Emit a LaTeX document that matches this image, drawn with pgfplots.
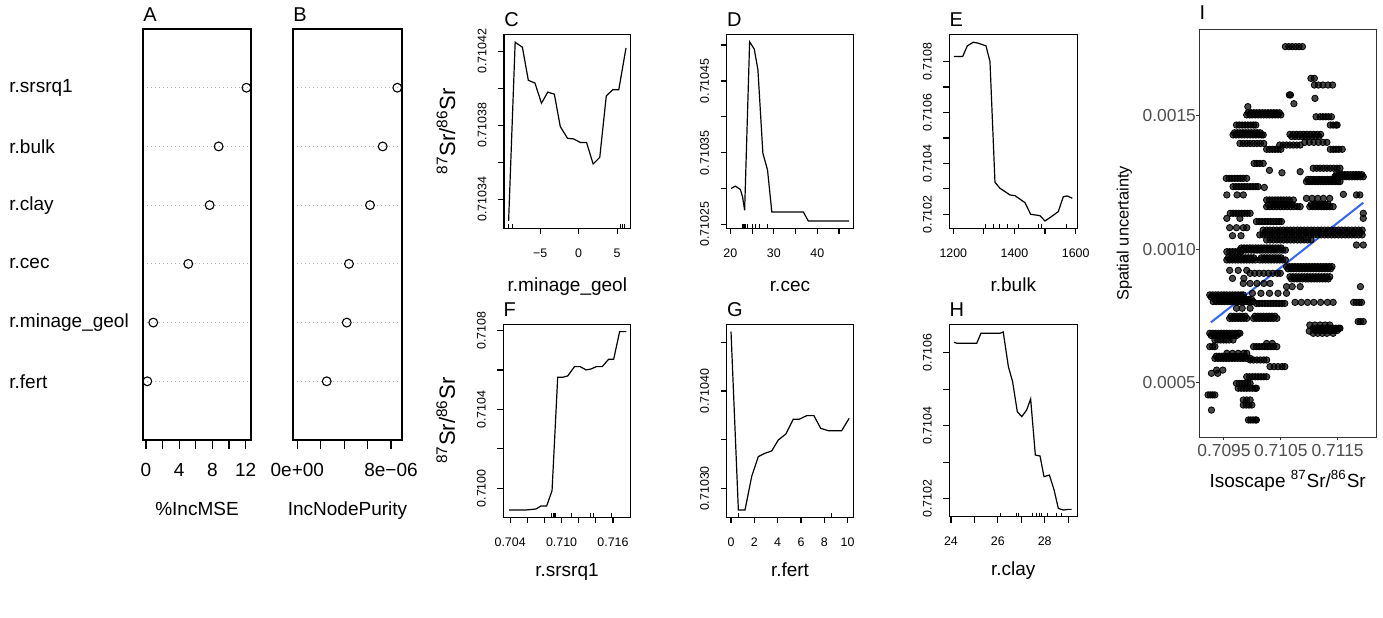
\documentclass[border=0pt]{standalone}
\usepackage{fontspec}
\setmainfont{Liberation Sans}
\usepackage{pgfplots}
\pgfplotsset{compat=1.18}
\definecolor{ggtext}{HTML}{4D4D4D}
\definecolor{ggframe}{HTML}{333333}
\definecolor{fitblue}{HTML}{3366FF}
\newcommand{\srratio}{\textsuperscript{87}Sr/\textsuperscript{86}Sr}

\pgfplotsset{
  rframe/.style={scale only axis, axis line style={line width=0.6pt},
    tick style={black, line width=0.6pt}, tick align=outside,
    xtick pos=left, ytick pos=left,
    title style={at={(axis description cs:0,1)}, anchor=south west, inner sep=0pt,
      yshift=-2.2pt, font=\fontsize{10}{12}\selectfont}},
  pdp/.style={rframe, major tick length=3pt,
    ticklabel style={font=\fontsize{6.2}{7}\selectfont},
    xticklabel style={anchor=base, yshift=-11.6pt},
    yticklabel style={rotate=90, anchor=south, inner ysep=5.6pt},
    xlabel style={at={(axis description cs:0.5,0)}, anchor=base,
      font=\fontsize{9.5}{11}\selectfont},
    ylabel style={anchor=center, font=\fontsize{11}{13}\selectfont}},
  pdline/.style={black, line width=0.6pt},
  rug/.style={only marks, mark=|, mark size=1pt,
    mark options={line width=0.4pt, yshift=1pt}},
  dots/.style={rframe, major tick length=4.5pt,
    ymin=0, ymax=7, ytick={1,...,6},
    ymajorgrids, grid style={gray!60, line width=0.5pt, dash pattern=on 0.6pt off 1.4pt},
    ytick style={draw=none},
    ticklabel style={font=\fontsize{9.5}{11}\selectfont},
    xticklabel style={anchor=base, yshift=-13.8pt},
    xlabel style={at={(axis description cs:0.5,0)}, anchor=base, yshift=-37.5pt,
      font=\fontsize{9.5}{11}\selectfont}},
  dotmark/.style={only marks, mark=o, mark size=2.2pt, mark options={black, line width=0.55pt}},
  ggpts/.style={only marks, mark=*, mark size=1.6pt,
    mark options={fill=black, draw=none, fill opacity=0.72}},
}

\begin{document}
\begin{tikzpicture}
\path[use as bounding box] (0,0) rectangle (691.5pt,308.5pt);

% A: %IncMSE
\begin{axis}[dots, at={(71.5pt,88.5pt)}, width=54pt, height=205.5pt,
  xmin=-0.36, xmax=12.65,
  xtick={0,2,...,12}, xticklabels={0,,4,,8,,12},
  yticklabels={r.fert,r.minage\_geol,r.cec,r.clay,r.bulk,r.srsrq1},
  yticklabel style={anchor=west, inner sep=0pt, xshift=-62.5pt},
  xlabel={\%IncMSE}, title={A}]
\addplot[dotmark] coordinates {(12.1,6)(8.75,5)(7.67,4)(5.1,3)(0.88,2)(0.16,1)};
\end{axis}

% B: IncNodePurity (units of 1e-6)
\begin{axis}[dots, at={(146.5pt,88.5pt)}, width=54.5pt, height=205.5pt,
  xmin=-0.37, xmax=8.94,
  xtick={0,2,...,8}, xticklabels={0e+00,,,,8e−06},
  yticklabels={},
  xlabel={IncNodePurity}, title={B}]
\addplot[dotmark] coordinates {(8.54,6)(7.29,5)(6.21,4)(4.41,3)(4.22,2)(2.51,1)};
\end{axis}

% C: r.minage_geol (y in 1e-5 above 0.71)
\begin{axis}[pdp, at={(252pt,194.35pt)}, width=63.35pt, height=97pt,
  xmin=-9.7, xmax=6.76, ymin=32.42, ymax=42.92,
  xtick={-5,0,5}, xticklabels={−5,0,5},
  ytick={34,36,...,42}, yticklabels={0.71034,,0.71038,,0.71042},
  xlabel={r.minage\_geol}, xlabel style={yshift=-31.5pt},
  ylabel={\srratio}, ylabel style={at={(axis description cs:-0.458,0.5)}},
  title={C}]
\addplot[pdline] coordinates {(-9.10,32.82)(-8.25,42.49)(-7.31,42.22)(-6.54,40.43)
  (-5.68,40.28)(-4.83,39.19)(-4.02,39.79)(-3.16,39.68)(-2.39,37.93)(-1.45,37.29)
  (-0.68,37.26)(0.26,37.06)(1.03,37.06)(1.88,35.90)(2.74,36.26)(3.59,39.59)
  (4.44,39.92)(5.21,39.92)(6.15,42.18)};
\addplot[rug] coordinates {(-9.10,32.42)(-8.59,32.42)(5.38,32.42)(5.64,32.42)(5.94,32.42)};
\end{axis}

% D: r.cec
\begin{axis}[pdp, at={(363.35pt,194.35pt)}, width=63.3pt, height=97pt,
  xmin=19.15, xmax=48.3, ymin=24.45, ymax=51.5,
  xtick={20,25,...,45}, xticklabels={20,,30,,40,},
  ytick={25,30,...,50}, yticklabels={0.71025,,0.71035,,0.71045,},
  xlabel={r.cec}, xlabel style={yshift=-31.5pt}, title={D}]
\addplot[pdline] coordinates {(20.15,30.00)(21.15,30.33)(22.29,29.87)(22.80,28.84)
  (23.28,26.97)(24.43,50.46)(25.50,49.43)(26.34,46.54)(27.48,34.92)(28.55,32.58)
  (29.54,26.73)(36.79,26.73)(37.94,25.47)(47.33,25.47)};
\addplot[rug] coordinates {(22.67,24.45)(22.90,24.45)(23.13,24.45)(23.44,24.45)
  (23.82,24.45)(24.96,24.45)(25.73,24.45)(26.72,24.45)(28.55,24.45)};
\end{axis}

% E: r.bulk
\begin{axis}[pdp, at={(474.65pt,194.35pt)}, width=64pt, height=97pt,
  xmin=1186.9, xmax=1605.4, ymin=14.5, ymax=90.7,
  xtick={1200,1300,...,1600}, xticklabels={1200,,1400,,1600},
  ytick={20,30,...,80}, yticklabels={0.7102,,0.7104,,0.7106,,0.7108},
  xlabel={r.bulk}, xlabel style={yshift=-31.5pt}, title={E}]
\addplot[pdline] coordinates {(1202,81.97)(1230.5,81.97)(1245.8,86.16)(1265.4,87.60)
  (1281.7,87.20)(1306.8,86.16)(1319.9,80.00)(1336.2,32.57)(1352.6,30.22)
  (1385.3,27.60)(1401.6,27.33)(1434.3,24.58)(1452.9,20.00)(1483.4,19.47)
  (1499.7,17.38)(1516,18.69)(1543.3,21.05)(1559.7,26.94)(1572.8,27.20)(1589.1,26.29)};
\addplot[rug] coordinates {(1304,14.5)(1331,14.5)(1350,14.5)(1376,14.5)(1414,14.5)
  (1478,14.5)(1489,14.5)(1571,14.5)};
\end{axis}

% F: r.srsrq1 (x in 1e-3 above 0.7)
\begin{axis}[pdp, at={(251.65pt,49.85pt)}, width=63.7pt, height=96.5pt,
  xmin=3.2, xmax=18.07, ymin=-14.7, ymax=83.2,
  xtick={4,6,...,16}, xticklabels={0.704,,,0.710,,,0.716},
  ytick={0,20,...,80}, yticklabels={0.7100,,0.7104,,0.7108},
  xlabel={r.srsrq1}, xlabel style={yshift=-29.5pt},
  ylabel={\srratio}, ylabel style={at={(axis description cs:-0.452,0.5)}},
  title={F}]
\addplot[pdline] coordinates {(3.88,-11.00)(5.84,-11.00)(7.01,-10.49)(7.60,-8.96)
  (8.26,-8.96)(8.89,-1.18)(9.55,56.32)(10.14,56.32)(10.72,57.00)(11.51,61.73)
  (12.17,61.73)(12.87,60.04)(13.46,60.55)(14.05,61.73)(14.75,61.73)(15.49,65.45)
  (16.08,65.45)(16.78,79.49)(17.57,79.49)};
\addplot[rug] coordinates {(8.8,-14.7)(9.0,-14.7)(9.2,-14.7)(9.3,-14.7)(11.1,-14.7)
  (13.4,-14.7)(13.7,-14.7)(15.8,-14.7)};
\end{axis}

% G: r.fert
\begin{axis}[pdp, at={(363.35pt,49.85pt)}, width=63.3pt, height=96.5pt,
  xmin=-0.37, xmax=10.49, ymin=27.05, ymax=46.83,
  xtick={0,2,...,10}, xticklabels={0,2,4,6,8,10},
  ytick={30,35,40,45}, yticklabels={0.71030,,0.71040,},
  xlabel={r.fert}, xlabel style={yshift=-29.5pt}, title={G}]
\addplot[pdline] coordinates {(0,46.08)(0.63,27.80)(1.20,27.80)(1.77,31.22)(2.34,33.27)
  (2.91,33.61)(3.49,33.85)(4.06,34.98)(4.71,35.59)(5.34,37.10)(5.86,37.10)
  (6.49,37.47)(7.11,37.47)(7.69,36.17)(8.34,35.93)(9.49,35.93)(10.14,37.20)};
\addplot[rug] coordinates {(0.6,27.05)(8.6,27.05)};
\end{axis}

% H: r.clay
\begin{axis}[pdp, at={(474.65pt,50.15pt)}, width=64pt, height=96.2pt,
  xmin=23.93, xmax=29.39, ymin=15.07, ymax=67.76,
  xtick={24,...,29}, xticklabels={24,,26,,28,},
  ytick={20,30,...,60}, yticklabels={0.7102,,0.7104,,0.7106},
  xlabel={r.clay}, xlabel style={yshift=-29.5pt}, title={H}]
\addplot[pdline] coordinates {(24.13,62.83)(24.27,62.56)(25.10,62.56)(25.28,65.30)
  (26.09,65.30)(26.23,65.66)(26.45,56.16)(26.63,52.05)(26.83,43.84)(27.02,42.47)
  (27.23,44.29)(27.40,47.31)(27.60,31.96)(27.80,31.69)(27.97,26.03)(28.20,26.48)
  (28.40,22.37)(28.58,17.35)(28.80,16.90)(29.01,17.08)(29.15,17.08)};
\addplot[rug] coordinates {(26.12,15.07)(26.78,15.07)(26.88,15.07)(27.49,15.07)
  (27.66,15.07)(27.77,15.07)(27.87,15.07)(28.11,15.07)(28.51,15.07)(28.73,15.07)};
\end{axis}

% I: x in 1e-4 above 0.7, y in 1e-4
\begin{axis}[scale only axis, at={(599.65pt,89.85pt)}, width=88.35pt, height=204pt,
  xmin=90.66, xmax=121.74, ymin=2.94, ymax=18.24,
  axis line style={ggframe, line width=0.5pt},
  tick align=outside, major tick length=1.5pt, tick style={ggframe, line width=0.5pt},
  xtick pos=left, ytick pos=left,
  xtick={95,105,115}, xticklabels={0.7095,0.7105,0.7115},
  ytick={5,10,15}, yticklabels={0.0005,0.0010,0.0015},
  ticklabel style={font=\fontsize{8.7}{10}\selectfont, text=ggtext},
  xticklabel style={anchor=base, yshift=-7.85pt},
  yticklabel style={anchor=east, inner sep=0pt, xshift=0pt},
  xlabel={Isoscape \srratio},
  xlabel style={at={(axis description cs:0.5,0)}, anchor=base, yshift=-25pt,
    font=\fontsize{9.5}{11}\selectfont},
  ylabel={Spatial uncertainty},
  ylabel style={at={(axis description cs:-0.424,0.5)}, anchor=center,
    font=\fontsize{8.2}{10}\selectfont},
  title={I}, title style={at={(axis description cs:0,1)}, anchor=south west,
    inner sep=0pt, yshift=-1.4pt, font=\fontsize{10}{12}\selectfont}]
\addplot[ggpts] coordinates {
(105.8,17.59)(106.4,17.59)(107.0,17.59)(107.6,17.59)(108.2,17.59)(108.8,17.59)
(110.3,16.40)(110.9,16.40)
(110.9,16.15)(111.6,16.15)(112.4,16.15)(113.3,16.15)(114.1,16.15)
(106.5,15.78)(106.7,15.78)(107.3,15.45)(111.0,15.65)(99.2,15.34)
(99.0,15.03)(99.5,15.03)(100.0,15.03)(100.5,15.03)(101.0,15.03)(101.5,15.03)(102.0,15.03)
(102.5,15.03)(103.0,15.03)(103.5,15.03)(104.0,15.03)(104.5,15.03)(105.0,15.03)
(111.2,14.96)(111.9,14.96)(112.4,14.96)(112.9,14.96)(113.4,14.96)(113.9,14.96)
(97.2,14.65)(97.7,14.65)(98.2,14.65)(98.7,14.65)(99.2,14.65)(99.7,14.65)(100.2,14.65)
(100.6,14.65)(113.7,14.65)(114.2,14.65)(114.7,14.65)(114.9,14.65)
(96.6,14.28)(97.1,14.28)(97.6,14.28)(98.1,14.28)(98.6,14.28)(99.1,14.28)(99.6,14.28)
(100.1,14.28)(100.6,14.28)(101.1,14.28)(101.6,14.28)(101.9,14.28)
(106.6,14.30)(107.2,14.30)(107.8,14.30)(108.4,14.30)(109.0,14.30)(109.6,14.30)
(110.2,14.30)(110.8,14.30)(111.4,14.30)(112.0,14.30)
(97.8,13.96)(98.4,13.96)(99.0,13.96)(99.6,13.96)(100.2,13.96)(100.8,13.96)(101.4,13.96)(102.0,13.96)
(104.8,13.90)(105.4,13.90)(106.0,13.90)(106.6,13.90)(107.2,13.90)(107.8,13.90)(108.4,13.90)
(109.2,14.00)(110.0,14.00)(110.8,14.00)(111.6,14.00)(112.4,14.00)(113.1,14.00)
(102.5,13.74)(103.0,13.74)(103.5,13.74)(104.0,13.74)(104.5,13.74)(105.0,13.74)
(113.7,13.74)(114.2,13.74)(114.7,13.74)(115.2,13.74)(115.8,13.74)
(100.3,13.21)(100.8,13.21)(101.3,13.21)(101.9,13.21)
(105.2,12.86)(108.4,12.90)(103.0,12.95)
(110.7,13.03)(111.3,13.03)(111.9,13.03)(112.5,13.03)(113.1,13.03)(113.7,13.03)(114.3,13.03)
(114.9,13.03)(115.4,13.03)
(109.5,12.53)(110.0,12.53)(110.5,12.53)(111.0,12.53)(111.5,12.53)(112.0,12.53)(112.5,12.53)
(113.0,12.53)(113.5,12.53)(114.0,12.53)(114.5,12.53)(115.0,12.53)(115.4,12.53)
(114.5,12.71)(115.0,12.71)(115.5,12.71)(116.0,12.71)(116.5,12.71)(117.0,12.71)(117.5,12.71)
(118.0,12.71)(118.5,12.71)(119.0,12.71)(119.5,12.71)
(95.4,12.65)(95.9,12.65)(96.4,12.65)(96.9,12.65)(97.4,12.65)(97.9,12.65)(98.4,12.65)(99.0,12.65)
(96.6,12.34)(97.1,12.34)(97.6,12.34)(98.1,12.34)(98.6,12.34)(99.1,12.34)(99.6,12.34)
(100.1,12.34)(100.6,12.34)(101.0,12.34)
(102.1,12.31)(95.5,12.03)(97.3,12.03)(98.4,12.03)(116.0,12.05)(118.3,12.03)(118.9,12.03)
(102.5,11.84)(103.0,11.84)(103.5,11.84)(104.0,11.84)(104.5,11.84)(105.0,11.84)(105.5,11.84)
(106.0,11.84)(106.5,11.84)(107.2,11.84)
(109.5,11.90)(110.5,11.90)(111.5,11.90)(112.5,11.90)(113.6,11.90)
(102.5,11.59)(103.1,11.59)(103.7,11.59)(104.3,11.59)(104.9,11.59)(105.5,11.59)(106.1,11.59)
(106.7,11.59)(107.3,11.59)(107.9,11.59)(108.4,11.59)(110.1,11.59)(110.6,11.59)(111.1,11.59)
(111.6,11.59)(112.1,11.59)(112.6,11.59)(113.1,11.59)(113.6,11.59)(114.2,11.59)
(96.1,11.34)(96.6,11.34)(97.1,11.34)(97.6,11.34)(98.1,11.34)(98.6,11.34)(99.1,11.34)
(99.6,11.34)(119.5,11.34)
(95.5,11.15)(97.8,11.15)(119.5,11.15)
(100.7,11.03)(101.2,11.03)(101.7,11.03)(102.2,11.03)(102.7,11.03)(103.2,11.03)(103.7,11.03)
(104.2,11.03)(104.7,11.03)(105.1,11.03)
(101.9,10.71)(102.5,10.71)(103.1,10.71)(103.7,10.71)(104.3,10.71)(104.9,10.71)(105.5,10.71)
(106.1,10.71)(106.7,10.71)(107.3,10.71)(107.9,10.71)(108.5,10.71)(109.1,10.71)(109.7,10.71)
(110.3,10.71)(110.9,10.71)(111.5,10.71)(112.1,10.71)(112.7,10.71)(113.3,10.71)(113.9,10.71)
(114.5,10.71)(115.1,10.71)(115.7,10.71)(116.3,10.71)(116.9,10.71)(117.5,10.71)(118.1,10.71)
(118.7,10.71)(119.3,10.71)
(101.3,10.53)(101.9,10.53)(102.5,10.53)(103.1,10.53)(103.7,10.53)(104.3,10.53)(104.9,10.53)
(105.5,10.53)(106.1,10.53)(106.7,10.53)(107.3,10.53)(107.9,10.53)(108.5,10.53)(109.1,10.53)
(109.7,10.53)(110.3,10.53)(110.9,10.53)(111.5,10.53)(112.1,10.53)(112.7,10.53)(113.3,10.53)
(113.9,10.53)(114.5,10.53)(115.1,10.53)(115.7,10.53)(116.3,10.53)(116.9,10.53)(117.5,10.53)
(118.1,10.53)(118.7,10.53)(119.3,10.53)
(102.5,10.34)(103.1,10.34)(103.7,10.34)(104.3,10.34)(104.9,10.34)(105.5,10.34)(106.1,10.34)
(106.7,10.34)(107.3,10.34)(107.9,10.34)(108.5,10.34)(109.1,10.34)(109.7,10.34)(110.3,10.34)
(96.0,10.80)(97.2,10.80)(98.4,10.80)(99.0,10.80)(96.5,10.50)(98.0,10.50)(119.5,10.15)(118.3,10.15)
(97.8,9.96)(98.3,9.96)(98.8,9.96)(99.3,9.96)(99.8,9.96)(100.3,9.96)(100.8,9.96)(101.3,9.96)
(101.8,9.96)(102.3,9.96)(102.8,9.96)(103.3,9.96)(103.8,9.96)(104.3,9.96)(104.8,9.96)
(105.3,9.96)(105.8,9.96)
(95.5,9.90)(96.0,9.90)(96.5,9.90)(97.0,9.90)(97.5,9.90)(98.0,9.90)
(95.5,9.59)(96.0,9.59)(96.5,9.59)(97.0,9.59)(97.5,9.59)(98.0,9.59)(98.5,9.59)(99.0,9.59)
(99.5,9.59)(100.0,9.59)(100.5,9.59)(101.3,9.59)(101.8,9.59)(102.3,9.59)(102.8,9.59)
(103.3,9.59)(103.8,9.59)(104.3,9.59)(104.8,9.59)(105.3,9.59)(105.8,9.59)
(106.0,9.34)(106.5,9.34)(107.0,9.34)(107.5,9.34)(108.0,9.34)(108.5,9.34)(109.0,9.34)
(109.5,9.34)(110.0,9.34)(110.5,9.34)(111.0,9.34)(111.5,9.34)(112.0,9.34)(112.5,9.34)
(113.0,9.34)(113.5,9.34)(114.0,9.34)
(106.6,8.96)(107.1,8.96)(107.6,8.96)(108.1,8.96)(108.6,8.96)(109.1,8.96)(109.6,8.96)
(110.1,8.96)(110.6,8.96)(111.1,8.96)(111.6,8.96)(112.1,8.96)(112.6,8.96)(113.1,8.96)(113.6,8.96)
(99.6,9.09)(100.4,9.09)(101.2,9.09)(102.0,9.09)(102.8,9.09)(103.6,9.09)(104.4,9.09)(104.9,9.09)
(96.0,9.20)(97.5,9.20)(99.0,9.20)(96.5,8.90)(98.5,8.90)
(98.4,8.71)(99.6,8.71)(100.8,8.71)(102.0,8.71)(103.1,8.71)
(106.0,8.59)(107.0,8.59)(108.4,8.59)(119.0,8.59)
(92.5,8.28)(93.0,8.28)(93.5,8.28)(94.0,8.28)(94.5,8.28)(95.0,8.28)(95.5,8.28)(96.0,8.28)
(96.5,8.28)(97.0,8.28)(97.5,8.28)(98.0,8.28)(98.4,8.28)
(93.1,8.03)(93.6,8.03)(94.1,8.03)(94.6,8.03)(95.1,8.03)(95.6,8.03)(96.1,8.03)(96.6,8.03)
(97.1,8.03)(97.6,8.03)(98.1,8.03)(98.6,8.03)(99.1,8.03)(99.6,8.03)(100.1,8.03)
(100.7,7.96)(101.2,7.96)(101.7,7.96)(102.2,7.96)(102.7,7.96)(103.2,7.96)(103.7,7.96)
(104.2,7.96)(104.7,7.96)(105.2,7.96)(105.7,7.96)
(107.5,8.00)(108.6,8.00)(109.7,8.00)(110.8,8.00)(112.0,8.00)(113.2,8.00)(114.2,8.00)
(117.8,8.00)(118.3,8.00)(118.8,8.00)(119.2,8.00)
(100.0,8.34)(101.5,8.34)(103.0,8.34)(104.5,8.34)(106.0,8.34)
(97.2,7.78)(98.2,7.78)(99.6,7.78)
(96.0,7.40)(96.5,7.40)(97.0,7.40)(97.5,7.40)(98.0,7.40)(98.5,7.40)(99.0,7.40)
(100.2,7.40)(100.7,7.40)(101.2,7.40)(101.7,7.40)(102.2,7.40)(102.7,7.40)(103.2,7.40)
(103.7,7.40)(104.3,7.40)
(118.6,7.28)(119.0,7.28)(119.5,7.28)
(110.1,7.15)(111.0,7.15)(111.9,7.15)(112.8,7.15)(113.6,7.15)
(110.7,7.03)(111.2,7.03)(111.7,7.03)(112.2,7.03)(112.7,7.03)(113.2,7.03)(113.7,7.03)
(114.2,7.03)(114.7,7.03)(115.2,7.03)(115.4,7.03)
(110.7,6.84)(111.5,6.84)(112.3,6.84)(113.1,6.84)(114.2,6.84)(110.0,6.92)
(92.5,6.84)(93.0,6.84)(93.5,6.84)(94.0,6.84)(94.5,6.84)(95.0,6.84)(95.5,6.84)(96.0,6.84)
(96.5,6.84)(97.0,6.84)(97.5,6.84)(97.8,6.84)
(93.4,6.59)(93.9,6.59)(94.4,6.59)(94.9,6.59)(95.4,6.59)(95.9,6.59)(96.6,6.59)
(92.5,6.34)(93.0,6.34)(93.4,6.34)
(100.2,6.34)(100.7,6.34)(101.2,6.34)(101.7,6.34)(102.2,6.34)(102.7,6.34)(103.2,6.34)
(103.7,6.34)(104.3,6.34)(102.5,6.46)(103.5,6.46)
(95.5,6.09)(96.5,6.09)(97.5,6.09)(98.5,6.09)(99.0,6.09)
(93.4,5.90)(93.9,5.90)(94.4,5.90)(94.9,5.90)(95.4,5.90)(95.9,5.90)(96.4,5.90)(96.9,5.90)
(97.4,5.90)(97.9,5.90)(98.4,5.90)(98.9,5.90)(99.6,5.90)
(99.6,5.84)(100.2,5.84)(100.8,5.84)(101.4,5.84)(102.0,5.84)(102.5,5.84)
(103.1,5.59)(103.8,5.59)(104.5,5.59)(105.2,5.59)(105.7,5.59)
(93.7,5.46)(94.8,5.46)(92.8,5.34)(93.9,5.34)
(99.0,5.21)(99.5,5.21)(100.0,5.21)(100.5,5.21)(101.0,5.21)(101.5,5.21)(102.0,5.21)(102.5,5.21)
(97.2,4.96)(97.7,4.96)(98.2,4.96)(98.7,4.96)(99.2,4.96)(99.6,4.96)
(97.5,4.78)(98.0,4.78)(98.5,4.78)(99.0,4.78)(99.5,4.78)(100.0,4.78)(100.5,4.78)(100.7,4.78)
(92.2,4.53)(92.6,4.53)(93.0,4.53)(93.4,4.53)
(98.4,4.34)(99.0,4.34)(99.6,4.34)
(98.4,4.15)(98.9,4.15)(99.4,4.15)(99.9,4.15)
(92.8,3.96)
(99.3,3.59)(99.7,3.59)(100.1,3.59)(100.5,3.59)(100.7,3.59)
};
% second layer of the dense bands (many samples share nearly the same values)
\addplot[ggpts] coordinates {
(99.25,15.11)(99.75,15.11)(100.25,15.11)(100.75,15.11)(101.25,15.11)(101.75,15.11)
(102.25,15.11)(102.75,15.11)(103.25,15.11)(103.75,15.11)(104.25,15.11)(104.75,15.11)
(96.85,14.36)(97.35,14.36)(97.85,14.36)(98.35,14.36)(98.85,14.36)(99.35,14.36)
(99.85,14.36)(100.35,14.36)(100.85,14.36)(101.35,14.36)
(106.9,14.22)(107.5,14.22)(108.1,14.22)(108.7,14.22)(109.3,14.22)(109.9,14.22)
(110.5,14.22)(111.1,14.22)(111.7,14.22)
(109.75,12.61)(110.25,12.61)(110.75,12.61)(111.25,12.61)(111.75,12.61)(112.25,12.61)
(112.75,12.61)(113.25,12.61)(113.75,12.61)(114.25,12.61)(114.75,12.61)
(114.75,12.79)(115.25,12.79)(115.75,12.79)(116.25,12.79)(116.75,12.79)(117.25,12.79)
(117.75,12.79)(118.25,12.79)(118.75,12.79)(119.25,12.79)
(102.8,11.67)(103.4,11.67)(104.0,11.67)(104.6,11.67)(105.2,11.67)(105.8,11.67)
(106.4,11.67)(107.0,11.67)(110.35,11.67)(110.85,11.67)(111.35,11.67)(111.85,11.67)
(112.35,11.67)(112.85,11.67)(113.35,11.67)
(102.2,10.62)(103.4,10.62)(104.6,10.62)(105.8,10.62)(107.0,10.62)(108.2,10.62)
(109.4,10.62)(110.6,10.62)(111.8,10.62)(113.0,10.62)(114.2,10.62)(115.4,10.62)
(116.6,10.62)(117.8,10.62)(119.0,10.62)
(98.05,10.04)(98.55,10.04)(99.05,10.04)(99.55,10.04)(100.05,10.04)(100.55,10.04)
(101.05,10.04)(101.55,10.04)(102.05,10.04)(102.55,10.04)(103.05,10.04)(103.55,10.04)
(104.05,10.04)(104.55,10.04)(105.05,10.04)
(95.75,9.67)(96.25,9.67)(96.75,9.67)(97.25,9.67)(97.75,9.67)(98.25,9.67)(98.75,9.67)
(99.25,9.67)(99.75,9.67)(100.25,9.67)(101.55,9.67)(102.05,9.67)(102.55,9.67)
(103.05,9.67)(103.55,9.67)(104.05,9.67)(104.55,9.67)(105.05,9.67)
(106.25,9.26)(106.75,9.26)(107.25,9.26)(107.75,9.26)(108.25,9.26)(108.75,9.26)
(109.25,9.26)(109.75,9.26)(110.25,9.26)(110.75,9.26)(111.25,9.26)(111.75,9.26)
(112.25,9.26)(112.75,9.26)(113.25,9.26)(113.75,9.26)
(106.85,8.88)(107.35,8.88)(107.85,8.88)(108.35,8.88)(108.85,8.88)(109.35,8.88)
(109.85,8.88)(110.35,8.88)(110.85,8.88)(111.35,8.88)(111.85,8.88)(112.35,8.88)
(112.85,8.88)(113.35,8.88)
(92.75,8.20)(93.25,8.20)(93.75,8.20)(94.25,8.20)(94.75,8.20)(95.25,8.20)
(95.75,8.20)(96.25,8.20)(96.75,8.20)(97.25,8.20)(97.75,8.20)(98.25,8.20)
(93.35,8.11)(93.85,8.11)(94.35,8.11)(94.85,8.11)(95.35,8.11)(95.85,8.11)(96.35,8.11)
(96.85,8.11)(97.35,8.11)(97.85,8.11)(98.35,8.11)(98.85,8.11)(99.35,8.11)(99.85,8.11)
(96.25,7.48)(96.75,7.48)(97.25,7.48)(97.75,7.48)(98.25,7.48)(98.75,7.48)
(100.45,7.48)(100.95,7.48)(101.45,7.48)(101.95,7.48)(102.45,7.48)(102.95,7.48)
(103.45,7.48)(103.95,7.48)
(110.95,6.95)(111.45,6.95)(111.95,6.95)(112.45,6.95)(112.95,6.95)(113.45,6.95)
(113.95,6.95)(114.45,6.95)(114.95,6.95)
(92.75,6.76)(93.25,6.76)(93.75,6.76)(94.25,6.76)(94.75,6.76)(95.25,6.76)
(95.75,6.76)(96.25,6.76)(96.75,6.76)(97.25,6.76)
(93.65,5.98)(94.15,5.98)(94.65,5.98)(95.15,5.98)(95.65,5.98)(96.15,5.98)
(96.65,5.98)(97.15,5.98)(97.65,5.98)(98.15,5.98)(98.65,5.98)
};
\addplot[fitblue, line width=1pt] coordinates {(92.71,7.25)(119.52,11.74)};
\end{axis}
\end{tikzpicture}
\end{document}
